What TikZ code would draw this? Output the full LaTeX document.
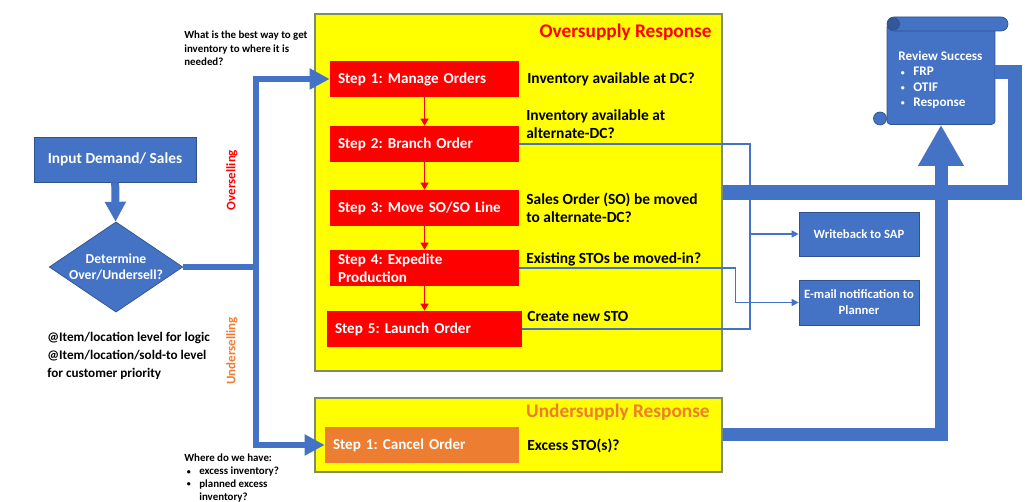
\documentclass[tikz,border=0pt]{standalone}
\usepackage{fontspec}
\setmainfont{Carlito}
\frenchspacing
\usetikzlibrary{arrows.meta,shapes.geometric}
\definecolor{msblue}{HTML}{4472C4}
\definecolor{msdark}{HTML}{2F528F}
\definecolor{msred}{HTML}{FF0000}
\definecolor{msorange}{HTML}{ED7D31}
\definecolor{msyellow}{HTML}{FFFF00}
\definecolor{boxline}{HTML}{7F8C6A}
\newcommand{\bul}{\makebox[0.3cm][l]{\hspace{0.05cm}\raisebox{0.4pt}{\fontsize{4.5}{4.5}\selectfont\textbullet}}}

\begin{document}
\begin{tikzpicture}[x=0.02cm, y=-0.02cm, font=\bfseries,
	every node/.style={inner sep=0pt},
	panel/.style={draw=boxline, fill=msyellow, line width=0.8pt, minimum width=8.14cm},
	stepbox/.style={fill=msred, text=white, align=left, inner xsep=0.16cm, text width=3.46cm, minimum height=0.72cm, font=\bfseries\fontsize{8.6}{10.4}\selectfont},
	ask/.style={anchor=west, align=left, font=\bfseries\fontsize{8.8}{10.4}\selectfont},
	bluebox/.style={fill=msblue, draw=msdark, line width=0.4pt, text=white, align=center},
	fat/.style={draw=msblue, line width=0.12cm, -{Triangle[width=0.4cm, length=0.4cm]}},
	band/.style={draw=msblue, line width=0.29cm},
	link/.style={draw=msblue, line width=0.9pt},
	redarrow/.style={draw=msred, line width=0.9pt, -{Triangle[width=0.16cm, length=0.14cm]}},
	note/.style={anchor=north west, align=left}]

	\useasboundingbox (0,0) rectangle (1025,502);

	% Input and decision
	\node[bluebox, minimum width=3.24cm, minimum height=0.9cm, font=\bfseries\fontsize{8.75}{11}\selectfont] (In) at (115,159.5) {Input Demand/ Sales};
	\node[diamond, aspect=1.48, fill=msblue, draw=msdark, line width=0.4pt, minimum width=2.66cm, minimum height=1.8cm, text=white, align=center, font=\bfseries\fontsize{7.8}{9.4}\selectfont] (Dec) at (116,267) {Determine\\Over/Undersell?};
	\draw[fat, line width=0.16cm] (In) -- (Dec);
	\node[note, font=\bfseries\fontsize{7.5}{10.2}\selectfont] (N3) at (47,332) {@Item/location level for logic\\@Item/location/sold-to level\\for customer priority};

	% Oversupply
	\node[panel, minimum height=7.14cm] (Over) at (518.5,192.5) {};
	\node[anchor=east, text=msred, font=\bfseries\fontsize{11}{13}\selectfont] (T1) at (712,32) {Oversupply Response};
	\node[stepbox] (S1) at (424.5,79) {Step 1: Manage Orders};
	\node[stepbox] (S2) at (424.5,144) {Step 2: Branch Order};
	\node[stepbox] (S3) at (424.5,208) {Step 3: Move SO/SO Line};
	\node[stepbox] (S4) at (424.5,268) {Step 4: Expedite\\Production};
	\node[stepbox, text width=3.58cm] (S5) at (424.5,329) {Step 5: Launch Order};
	\draw[redarrow] (S1) -- (S2);
	\draw[redarrow] (S2) -- (S3);
	\draw[redarrow] (S3) -- (S4);
	\draw[redarrow] (S4) -- (S5);
	\node[ask] (Q1) at (527,79) {Inventory available at DC?};
	\node[ask] (Q2) at (526,124) {Inventory available at\\alternate-DC?};
	\node[ask] (Q3) at (526,208) {Sales Order (SO) be moved\\to alternate-DC?};
	\node[ask] (Q4) at (526,259) {Existing STOs be moved-in?};
	\node[ask] (Q5) at (527,316) {Create new STO};

	% Undersupply
	\node[panel, minimum height=1.48cm] (Under) at (518.5,435) {};
	\node[anchor=east, text=msorange, font=\bfseries\fontsize{11}{13}\selectfont] (T2) at (710,412) {Undersupply Response};
	\node[stepbox, fill=msorange, text width=3.56cm] (C1) at (422,445) {Step 1: Cancel Order};
	\node[ask] (QC) at (527,446) {Excess STO(s)?};

	% Over/under selling
	\coordinate (J) at (256,267);
	\draw[fat] (Dec.east) -- (J) |- (S1);
	\draw[fat] (J) |- (C1);
	\node[rotate=90, text=msred, font=\bfseries\fontsize{7.4}{9}\selectfont] (OS) at (232,180) {Overselling};
	\node[rotate=90, text=msorange, font=\bfseries\fontsize{7.4}{9}\selectfont] (US) at (232,351) {Underselling};
	\node[note, font=\bfseries\fontsize{6.2}{7.6}\selectfont] (N1) at (184,31) {What is the best way to get\\inventory to where it is\\needed?};
	\node[note, font=\bfseries\fontsize{6.2}{7.3}\selectfont] (N2) at (184,454) {Where do we have:\\\bul excess inventory?\\\bul planned excess\\\hspace*{0.3cm}inventory?};

	% Outputs
	\node[bluebox, minimum width=2.4cm, minimum height=0.88cm, font=\bfseries\fontsize{7.2}{9}\selectfont] (WB) at (859,234) {Writeback to SAP};
	\node[bluebox, minimum width=2.4cm, minimum height=0.9cm, font=\bfseries\fontsize{7.2}{9}\selectfont] (EM) at (859,302.5) {E-mail notification to\\Planner};
	\coordinate (B) at (750,329);
	\draw[link] (S2.east) -| (B) -- (S5.east);
	\draw[link, -{Triangle[width=0.14cm, length=0.14cm]}] (B |- WB) -- (WB);
	\draw[link, -{Triangle[width=0.14cm, length=0.14cm]}] (S4.east) -| ([xshift=-1.26cm]EM.west) -- (EM.west);

	% Review scroll
	\node[bluebox, rounded corners=2pt, minimum width=2.16cm, minimum height=2.02cm] (Rev) at (941,74) {};
	\draw[fill=msblue, draw=msdark, line width=0.4pt, rounded corners=0.14cm] (887,17) rectangle (1008,31);
	\draw[fill=msdark!80!msblue, draw=msdark, line width=0.4pt] (893.5,24) circle (0.12cm);
	\draw[fill=msblue, draw=msdark, line width=0.4pt] (880,118.5) circle (0.13cm);
	\node[anchor=north west, align=left, text=white, font=\bfseries\fontsize{7.5}{8.7}\selectfont] (RevT) at (898,51) {Review Success\\\bul FRP\\\bul OTIF\\\bul Response};
	\coordinate (RT) at (1015,72);
	\draw[band] (Over.east) -| (RT) -- (RT -| Rev.east);
	\draw[band, line width=0.26cm, -{Triangle[width=0.86cm, length=0.82cm]}] (Under.east) -| (Rev.south);
\end{tikzpicture}
\end{document}
